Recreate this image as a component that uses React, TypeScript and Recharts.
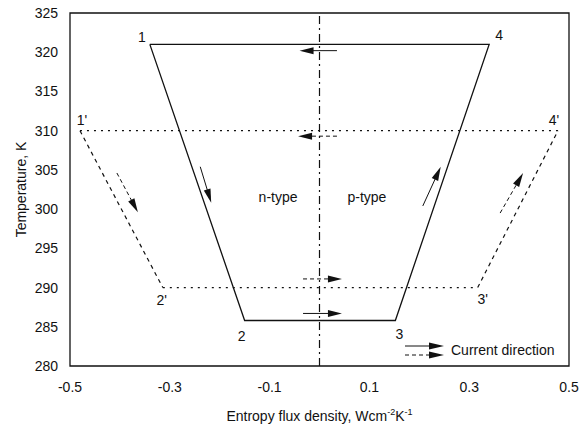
import React from "react";
import {
  ComposedChart,
  Line,
  XAxis,
  YAxis,
  ReferenceLine,
  ReferenceArea,
  ReferenceDot,
} from "recharts";

const xTicks = [-0.5, -0.3, -0.1, 0.1, 0.3, 0.5];
const yTicks = [280, 285, 290, 295, 300, 305, 310, 315, 320, 325];

// cycle 1-2-3-4 (solid)
const innerNames = ["1", "2", "3", "4"];
const innerS = [-0.34, -0.15, 0.152, 0.34];
const innerT = [321, 285.8, 285.8, 321];

// cycle 1'-2'-3'-4' (dotted / dashed)
const outerNames = ["1'", "2'", "3'", "4'"];
const outerS = [-0.48, -0.314, 0.317, 0.478];
const outerT = [310, 290, 290, 310];

// current direction arrows, tail -> head
const arrowDashed = [false, true, true, false, false, true, false, true];
const arrowS0 = [0.035, 0.035, -0.033, -0.033, -0.239, -0.406, 0.207, 0.362];
const arrowT0 = [320.2, 309.3, 291.1, 286.7, 305.4, 304.6, 300.4, 299.5];
const arrowS1 = [-0.04, -0.043, 0.045, 0.045, -0.217, -0.364, 0.243, 0.408];
const arrowT1 = [320.2, 309.3, 291.1, 286.7, 300.8, 299.6, 305.4, 304.6];

const regionNames = ["n-type", "p-type"];
const regionS = [-0.083, 0.095];
const regionT = [301.5, 301.5];

// label offsets (px) for the point numbers
const innerOffset = [[-8, -7], [-3, 15], [4, 13], [10, -9]];
const outerOffset = [[2, -11], [-1, 12], [5, 11], [-4, -11]];

const FONT = "'Liberation Sans', Arial, sans-serif";
const INK = "#111";

const pt = (s: number, t: number) => ({ s, t });
const innerPath = [0, 1, 2, 3, 0].map((i) => pt(innerS[i], innerT[i]));
const outerTop = [pt(outerS[0], outerT[0]), pt(outerS[3], outerT[3])];
const outerBottom = [pt(outerS[1], outerT[1]), pt(outerS[2], outerT[2])];
const outerLeft = [pt(outerS[0], outerT[0]), pt(outerS[1], outerT[1])];
const outerRight = [pt(outerS[2], outerT[2]), pt(outerS[3], outerT[3])];

function arrowShape(dashed: boolean) {
  return (p: any) => {
    const { x1, y1, x2, y2 } = p;
    const dx = x2 - x1;
    const dy = y2 - y1;
    const len = Math.hypot(dx, dy) || 1;
    const ux = dx / len;
    const uy = dy / len;
    const hl = 14;
    const hw = 3.5;
    const bx = x2 - ux * hl;
    const by = y2 - uy * hl;
    const pts = `${x2},${y2} ${bx - uy * hw},${by + ux * hw} ${bx + uy * hw},${by - ux * hw}`;
    return (
      <g>
        <line x1={x1} y1={y1} x2={bx + ux * 2} y2={by + uy * 2} stroke={INK} strokeWidth={1} strokeDasharray={dashed ? "4 3" : undefined} />
        <polygon points={pts} fill={INK} />
      </g>
    );
  };
}

function pointLabel(text: string, ox: number, oy: number, size = 14) {
  return (props: any) => {
    const vb = props.viewBox || {};
    const cx = (vb.x ?? 0) + (vb.width ?? 0) / 2;
    const cy = (vb.y ?? 0) + (vb.height ?? 0) / 2;
    return (
      <text x={cx + ox} y={cy + oy} textAnchor="middle" dominantBaseline="central" fontSize={size} fontFamily={FONT} fill={INK}>
        {text}
      </text>
    );
  };
}

function Legend() {
  return (
    <div style={{ position: "absolute", left: 403, top: 339, display: "flex", alignItems: "center", fontFamily: FONT, fontSize: 14, color: INK }}>
      <svg width={44} height={22}>
        <line x1={2} y1={7} x2={28} y2={7} stroke={INK} strokeWidth={1} />
        <polygon points="41,7 26,3.5 26,10.5" fill={INK} />
        <line x1={2} y1={16} x2={28} y2={16} stroke={INK} strokeWidth={1} strokeDasharray="4 3" />
        <polygon points="41,16 26,12.5 26,19.5" fill={INK} />
      </svg>
      <span style={{ marginLeft: 4 }}>Current direction</span>
    </div>
  );
}

export default function App() {
  const tickStyle = { fill: INK, fontSize: 14, fontFamily: FONT };
  return (
    <div style={{ position: "absolute", left: 0, top: 0, width: 580, height: 428, background: "#fff" }}>
      <ComposedChart width={580} height={428} margin={{ top: 13, right: 11, bottom: 0, left: 0 }}>
        <XAxis
          type="number"
          dataKey="s"
          domain={[-0.5, 0.5]}
          ticks={xTicks}
          allowDataOverflow
          axisLine={false}
          tickLine={false}
          tickSize={0}
          tickMargin={16}
          height={62}
          tick={tickStyle}
          tickFormatter={(v: number) => v.toFixed(1)}
          label={{
            content: (p: any) => {
              const vb = p.viewBox || {};
              const cx = vb.x + vb.width / 2;
              return (
                <text x={cx} y={421} textAnchor="middle" fontSize={14} fontFamily={FONT} fill={INK}>
                  Entropy flux density, Wcm
                  <tspan dy={-6} fontSize={9}>-2</tspan>
                  <tspan dy={6}>K</tspan>
                  <tspan dy={-6} fontSize={9}>-1</tspan>
                </text>
              );
            },
          }}
        />
        <YAxis
          type="number"
          domain={[280, 325]}
          ticks={yTicks}
          allowDataOverflow
          axisLine={false}
          tickLine={false}
          tickSize={0}
          tickMargin={12}
          width={70}
          tick={tickStyle}
          label={{
            content: (p: any) => {
              const vb = p.viewBox || {};
              const cy = vb.y + vb.height / 2;
              return (
                <text x={21} y={cy} transform={`rotate(-90, 21, ${cy})`} textAnchor="middle" dominantBaseline="central" fontSize={14} fontFamily={FONT} fill={INK}>
                  Temperature, K
                </text>
              );
            },
          }}
        />
        <ReferenceArea x1={-0.5} x2={0.5} y1={280} y2={325} fill="none" fillOpacity={0} stroke={INK} strokeWidth={1.3} />
        <ReferenceLine x={0} stroke={INK} strokeWidth={1.2} strokeDasharray="8 4 2 4" />

        <Line data={innerPath} dataKey="t" type="linear" stroke={INK} strokeWidth={1.3} dot={false} isAnimationActive={false} />
        <Line data={outerTop} dataKey="t" type="linear" stroke={INK} strokeWidth={1.3} strokeDasharray="2 5" dot={false} isAnimationActive={false} />
        <Line data={outerBottom} dataKey="t" type="linear" stroke={INK} strokeWidth={1.3} strokeDasharray="2 5" dot={false} isAnimationActive={false} />
        <Line data={outerLeft} dataKey="t" type="linear" stroke={INK} strokeWidth={1.2} strokeDasharray="4 4" dot={false} isAnimationActive={false} />
        <Line data={outerRight} dataKey="t" type="linear" stroke={INK} strokeWidth={1.2} strokeDasharray="4 4" dot={false} isAnimationActive={false} />

        {arrowDashed.map((d, i) => (
          <ReferenceLine
            key={`a${i}`}
            segment={[
              { x: arrowS0[i], y: arrowT0[i] },
              { x: arrowS1[i], y: arrowT1[i] },
            ]}
            shape={arrowShape(d)}
          />
        ))}

        {innerNames.map((n, i) => (
          <ReferenceDot key={`in${i}`} x={innerS[i]} y={innerT[i]} r={0} fill="none" stroke="none" label={{ content: pointLabel(n, innerOffset[i][0], innerOffset[i][1]) }} />
        ))}
        {outerNames.map((n, i) => (
          <ReferenceDot key={`out${i}`} x={outerS[i]} y={outerT[i]} r={0} fill="none" stroke="none" label={{ content: pointLabel(n, outerOffset[i][0], outerOffset[i][1]) }} />
        ))}
        {regionNames.map((n, i) => (
          <ReferenceDot key={`rg${i}`} x={regionS[i]} y={regionT[i]} r={0} fill="none" stroke="none" label={{ content: pointLabel(n, 0, 0) }} />
        ))}
      </ComposedChart>
      <Legend />
    </div>
  );
}
